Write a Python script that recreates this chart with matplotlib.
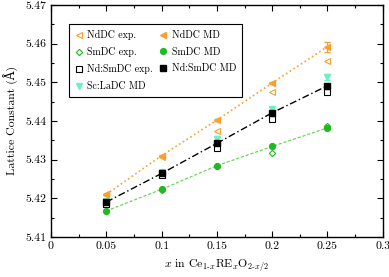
import matplotlib
matplotlib.use("Agg")
import matplotlib.pyplot as plt
import matplotlib.ticker as ticker

# composition x
x = [0.05, 0.10, 0.15, 0.20, 0.25]

nddc_exp = [5.4208, 5.4306, 5.4375, 5.4474, 5.4555]
nddc_md = [5.4210, 5.4310, 5.4402, 5.4498, 5.4592]
nddc_md_err = [0.0002, 0.0002, 0.0003, 0.0003, 0.0013]

smdc_exp = [5.4166, 5.4222, 5.4284, 5.4317, 5.4386]
smdc_md = [5.4167, 5.4223, 5.4284, 5.4334, 5.4382]
smdc_md_err = [0.0003, 0.0003, 0.0003, 0.0003, 0.0004]

ndsmdc_exp = [5.4185, 5.4260, 5.4331, 5.4404, 5.4476]
ndsmdc_md = [5.4190, 5.4264, 5.4342, 5.4421, 5.4491]

sclad_md = [5.4192, 5.4268, 5.4354, 5.4431, 5.4514]
sclad_md_err = [0.0004, 0.0004, 0.0006, 0.0006, 0.0007]

orange = "#f8a030"
green = "#22b822"
lgreen = "#6ad65a"
cyan = "#6cf0c4"

plt.rcParams["font.family"] = ["cmr10", "DejaVu Serif"]
plt.rcParams["mathtext.fontset"] = "cm"
plt.rcParams["axes.formatter.use_mathtext"] = True
plt.rcParams["font.size"] = 8.5

fig = plt.figure(figsize=(3.89, 2.77), dpi=100)
ax = fig.add_axes([0.131, 0.145, 0.853, 0.837])

# lines through the MD points
ax.plot(x, nddc_md, ":", color=orange, lw=1.2)
ax.plot(x, ndsmdc_md, color="black", lw=1.0, dashes=(5, 2, 1, 2))
ax.plot(x, smdc_md, color=lgreen, lw=0.9, dashes=(2.5, 1.5))

# error bars (no legend entry)
ax.errorbar(x, sclad_md, yerr=sclad_md_err, fmt="none", ecolor=cyan, capsize=2.5, elinewidth=0.8)
ax.errorbar(x, nddc_md, yerr=nddc_md_err, fmt="none", ecolor=orange, capsize=2.5, elinewidth=0.8)
ax.errorbar(x, smdc_md, yerr=smdc_md_err, fmt="none", ecolor=green, capsize=1.5, elinewidth=0.8)

ax.plot(x, nddc_exp, "<", color=orange, mfc="none", ms=4, mew=0.8, ls="none", label="NdDC exp.")
ax.plot(x, smdc_exp, "D", color=green, mfc="none", ms=3.2, mew=0.8, ls="none", label="SmDC exp.")
ax.plot(x, ndsmdc_exp, "s", color="black", mfc="none", ms=3.8, mew=0.8, ls="none", label="Nd:SmDC exp.")
ax.plot(x, sclad_md, "v", color=cyan, ms=4, ls="none", label="Sc:LaDC MD")
ax.plot(x, nddc_md, "<", color=orange, ms=4, ls="none", label="NdDC MD")
ax.plot(x, smdc_md, "o", color=green, ms=4.2, ls="none", label="SmDC MD")
ax.plot(x, ndsmdc_md, "s", color="black", ms=3.8, ls="none", label="Nd:SmDC MD")

ax.set_xlim(0, 0.3)
ax.set_ylim(5.41, 5.47)
ax.xaxis.set_major_locator(ticker.MultipleLocator(0.05))
ax.xaxis.set_minor_locator(ticker.MultipleLocator(0.025))
ax.yaxis.set_major_locator(ticker.MultipleLocator(0.01))
ax.yaxis.set_minor_locator(ticker.MultipleLocator(0.005))
ax.xaxis.set_major_formatter(ticker.FuncFormatter(lambda v, p: "0" if v == 0 else ("%g" % round(v, 3))))
ax.yaxis.set_major_formatter(ticker.FormatStrFormatter("%.2f"))
ax.tick_params(which="both", direction="in", top=True, right=True, width=0.8)
ax.tick_params(which="major", length=4.5)
ax.tick_params(which="minor", length=2.5)
for s in ax.spines.values():
    s.set_linewidth(1.0)

ax.set_xlabel(r"$x$ in Ce$_{1\text{-}x}$RE$_x$O$_{2\text{-}x/2}$")
ax.set_ylabel("Lattice Constant (Å)")

h, l = ax.get_legend_handles_labels()
order = ["NdDC exp.", "SmDC exp.", "Nd:SmDC exp.", "Sc:LaDC MD", "NdDC MD", "SmDC MD", "Nd:SmDC MD"]
hs = [h[l.index(o)] for o in order]
leg = ax.legend(hs, order, ncol=2, loc="upper left", bbox_to_anchor=(0.054, 0.918),
                borderaxespad=0, fancybox=False, edgecolor="black", framealpha=1,
                fontsize=7.2, handlelength=0.8, handletextpad=0.45, columnspacing=0.6,
                borderpad=0.6, labelspacing=0.72)
leg.get_frame().set_linewidth(0.8)

fig.savefig("out.png", dpi=100)
